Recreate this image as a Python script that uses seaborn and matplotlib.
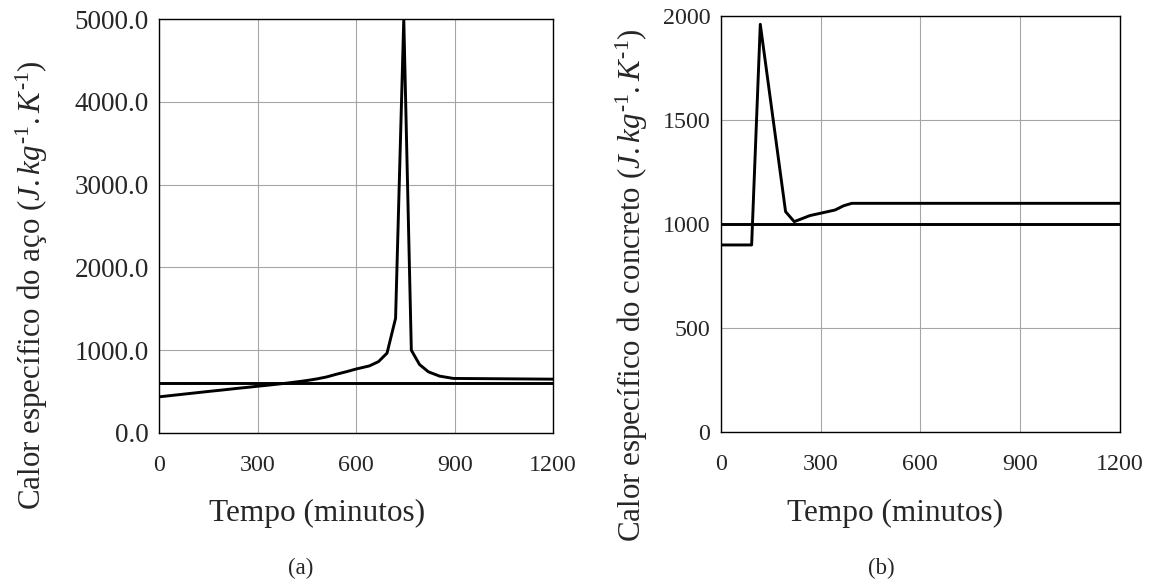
import matplotlib
matplotlib.use("Agg")
import matplotlib.pyplot as plt
import seaborn as sns
import pandas as pd

# ---- data ----
steel_time = [0, 30, 60, 90, 120, 150, 180, 210, 240, 270, 300, 330, 360, 390, 420, 450,
              480, 510, 540, 570, 600, 640, 668, 694, 720, 745, 768, 793, 820, 854, 896, 1200]
steel_cp = [437, 450, 463, 476, 489, 502, 514, 527, 540, 552, 565, 577, 590, 603, 618, 634,
            653, 677, 710, 740, 773, 810, 862, 965, 1385, 5000, 1000, 827, 739, 687, 659, 650]
steel_const_time = [0, 1200]
steel_const_cp = [600, 600]

conc_time = [0, 93, 119, 195, 221, 268, 344, 369, 394, 1200]
conc_cp = [900, 900, 1960, 1060, 1012, 1041, 1068, 1088, 1100, 1100]
conc_const_time = [0, 1200]
conc_const_cp = [1000, 1000]

x_ticks = [0, 300, 600, 900, 1200]
steel_yticks = [0, 1000, 2000, 3000, 4000, 5000]
conc_yticks = [0, 500, 1000, 1500, 2000]

xlabel = "Tempo (minutos)"
ylabel_a = r"Calor específico do aço ($J.kg^{\mathit{‐1}}.K^{\mathit{‐1}}$)"
ylabel_b = r"Calor específico do concreto ($J.kg^{\mathit{‐1}}.K^{\mathit{‐1}}$)"

# ---- style ----
sns.set_style("white")
plt.rcParams["font.family"] = ["Liberation Serif", "DejaVu Serif"]
plt.rcParams["mathtext.fontset"] = "custom"
plt.rcParams["mathtext.rm"] = "Liberation Serif"
plt.rcParams["mathtext.it"] = "Liberation Serif:italic"
plt.rcParams["mathtext.bf"] = "Liberation Serif:bold"

fig = plt.figure(figsize=(11.52, 5.83), dpi=100)
ax1 = fig.add_axes([0.1383, 0.2573, 0.3418, 0.7101])
ax2 = fig.add_axes([0.6256, 0.2585, 0.3466, 0.7141])

df_s = pd.DataFrame({"t": steel_time, "cp": steel_cp})
df_sc = pd.DataFrame({"t": steel_const_time, "cp": steel_const_cp})
df_c = pd.DataFrame({"t": conc_time, "cp": conc_cp})
df_cc = pd.DataFrame({"t": conc_const_time, "cp": conc_const_cp})

lw = 2.1
sns.lineplot(data=df_sc, x="t", y="cp", ax=ax1, color="black", lw=lw, estimator=None, sort=False)
sns.lineplot(data=df_s, x="t", y="cp", ax=ax1, color="black", lw=lw, estimator=None, sort=False)
sns.lineplot(data=df_cc, x="t", y="cp", ax=ax2, color="black", lw=lw, estimator=None, sort=False)
sns.lineplot(data=df_c, x="t", y="cp", ax=ax2, color="black", lw=lw, estimator=None, sort=False)

for ax, yt, ylim in [(ax1, steel_yticks, 5000), (ax2, conc_yticks, 2000)]:
    ax.set_xlim(0, 1200)
    ax.set_ylim(0, ylim)
    ax.set_xticks(x_ticks)
    ax.set_yticks(yt)
    ax.grid(True, color="#a6a6a6", lw=0.8)
    ax.set_axisbelow(True)
    for sp in ax.spines.values():
        sp.set_visible(True)
        sp.set_color("black")
        sp.set_linewidth(1.0)
    ax.tick_params(axis="both", direction="out", length=6, width=1, color="black",
                   labelsize=17.3)
    ax.tick_params(axis="x", pad=9.5)
    ax.tick_params(axis="y", pad=1.5)

ax1.tick_params(axis="y", labelsize=19.5)

ax1.set_yticklabels([f"{v:.1f}" for v in steel_yticks])
ax2.set_yticklabels([f"{v}" for v in conc_yticks])

ax1.set_xlabel(xlabel, fontsize=22.5)
ax2.set_xlabel(xlabel, fontsize=22.5)
ax1.xaxis.set_label_coords(0.4005, -0.159)
ax2.xaxis.set_label_coords(0.4365, -0.160)

ax1.set_ylabel(ylabel_a, fontsize=22.3, va="center")
ax2.set_ylabel(ylabel_b, fontsize=22.3, va="center")
ax1.yaxis.set_label_coords(-0.3233, 0.3575)
ax2.yaxis.set_label_coords(-0.222, 0.3538)

fig.text(301 / 1152, 1 - 568 / 583, "(a)", ha="center", va="center", fontsize=16.5)
fig.text(881 / 1152, 1 - 568 / 583, "(b)", ha="center", va="center", fontsize=16.5)

fig.savefig("out.png", dpi=100)
